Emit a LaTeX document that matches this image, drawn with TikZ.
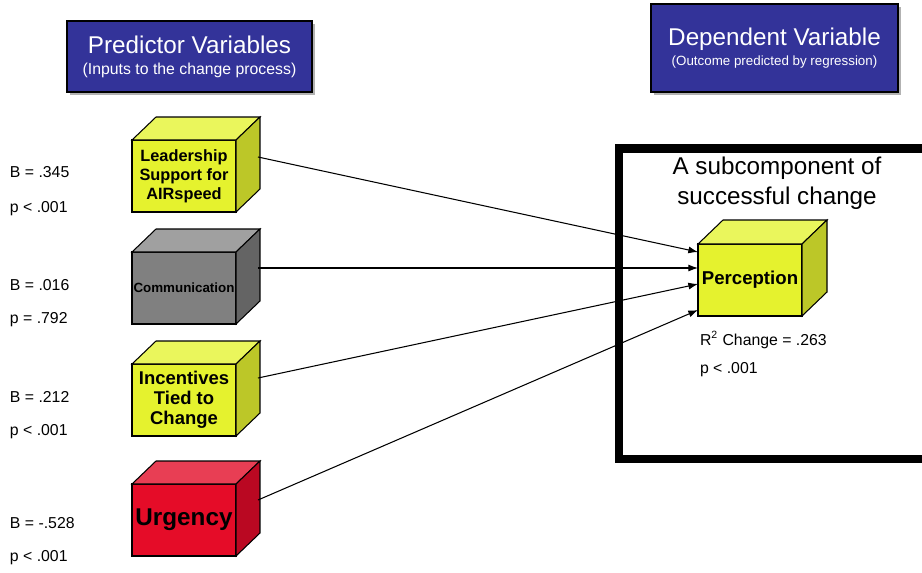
\documentclass[tikz,border=0pt]{standalone}
\usepackage{fontspec}
\setmainfont{Liberation Sans}
\usetikzlibrary{arrows.meta}

\definecolor{titleblue}{RGB}{51,51,153}
\definecolor{yellowfront}{RGB}{229,242,46}
\definecolor{yellowtop}{RGB}{234,246,92}
\definecolor{yellowside}{RGB}{188,199,40}
\definecolor{grayfront}{RGB}{128,128,128}
\definecolor{graytop}{RGB}{160,160,160}
\definecolor{grayside}{RGB}{100,100,100}
\definecolor{redfront}{RGB}{229,12,40}
\definecolor{redtop}{RGB}{232,62,84}
\definecolor{redside}{RGB}{186,8,34}

\begin{document}
\begin{tikzpicture}[x=0.02cm, y=-0.02cm,
  every node/.style={inner sep=0pt, outer sep=0pt},
  titlebox/.style={fill=titleblue, draw=black, line width=0.8pt, text=white, align=center},
  boxfront/.style={draw=black, line width=0.6pt, minimum width=2.08cm, minimum height=1.44cm, align=center, font=\bfseries},
  stat/.style={anchor=west, font=\fontsize{9}{10}\selectfont},
  arrow/.style={-{Latex[length=5.5pt,width=4pt]}, line width=0.6pt}]
\useasboundingbox (0,0) rectangle (922,572);

% headers
\fill[gray!60] (70,24) rectangle (315,95);
\node[titlebox, minimum width=4.9cm, minimum height=1.42cm] (pred) at (189.5,56.5)
  {\fontsize{13.8}{15}\selectfont Predictor Variables\\[0pt]\fontsize{9}{10}\selectfont (Inputs to the change process)};
\fill[gray!60] (654,7) rectangle (901,95);
\node[titlebox, minimum width=4.94cm, minimum height=1.76cm] (dep) at (774.5,48)
  {\fontsize{13.8}{15}\selectfont Dependent Variable\\[-1pt]\fontsize{7.6}{9}\selectfont (Outcome predicted by regression)};

% frame round the outcome
\draw[line width=4.6pt] (619,148.5) rectangle (935,459);
\node[align=center, font=\fontsize{13.8}{17}\selectfont] (sub) at (777,183) {A subcomponent of\\successful change};

% predictor cubes
\node[boxfront, fill=yellowfront, font=\bfseries\fontsize{9.3}{10.8}\selectfont] (lead) at (184,176) {Leadership\\Support for\\AIRspeed};
\filldraw[fill=yellowtop, line width=0.6pt] (lead.north west) -- ++(24,-23) -- ++(104,0) -- (lead.north east) -- cycle;
\filldraw[fill=yellowside, line width=0.6pt] (lead.north east) -- ++(24,-23) -- ++(0,72) -- (lead.south east) -- cycle;

\node[boxfront, fill=grayfront, font=\bfseries\fontsize{7.6}{8}\selectfont] (comm) at (184,288) {Communication};
\filldraw[fill=graytop, line width=0.6pt] (comm.north west) -- ++(24,-23) -- ++(104,0) -- (comm.north east) -- cycle;
\filldraw[fill=grayside, line width=0.6pt] (comm.north east) -- ++(24,-23) -- ++(0,72) -- (comm.south east) -- cycle;

\node[boxfront, fill=yellowfront, font=\bfseries\fontsize{10.5}{11.4}\selectfont] (inc) at (184,400) {Incentives\\Tied to\\Change};
\filldraw[fill=yellowtop, line width=0.6pt] (inc.north west) -- ++(24,-23) -- ++(104,0) -- (inc.north east) -- cycle;
\filldraw[fill=yellowside, line width=0.6pt] (inc.north east) -- ++(24,-23) -- ++(0,72) -- (inc.south east) -- cycle;

\node[boxfront, fill=redfront, font=\bfseries\fontsize{13.8}{15}\selectfont] (urg) at (184,520) {Urgency};
\filldraw[fill=redtop, line width=0.6pt] (urg.north west) -- ++(24,-23) -- ++(104,0) -- (urg.north east) -- cycle;
\filldraw[fill=redside, line width=0.6pt] (urg.north east) -- ++(24,-23) -- ++(0,72) -- (urg.south east) -- cycle;

% outcome cube
\node[boxfront, fill=yellowfront, font=\bfseries\fontsize{10.6}{12}\selectfont] (perc) at (750,280) {Perception};
\filldraw[fill=yellowtop, line width=0.6pt] (perc.north west) -- ++(25,-24) -- ++(104,0) -- (perc.north east) -- cycle;
\filldraw[fill=yellowside, line width=0.6pt] (perc.north east) -- ++(25,-24) -- ++(0,72) -- (perc.south east) -- cycle;

% stats
\node[stat] (bLead) at (10,172) {B = .345};
\node[stat] (pLead) at (10,209) {p < .001};
\node[stat] (bComm) at (10,285) {B = .016};
\node[stat] (pComm) at (10,320) {p = .792};
\node[stat] (bInc) at (10,397) {B = .212};
\node[stat] (pInc) at (10,432) {p < .001};
\node[stat] (bUrg) at (10,523) {B = -.528};
\node[stat] (pUrg) at (10,558) {p < .001};
\node[stat] (rsq) at (700,340) {R\textsuperscript{2} Change = .263};
\node[stat] (pPerc) at (700,370) {p < .001};

% paths
\draw[arrow] ([shift={(22,-19)}]lead.east) -- ([shift={(0,-28)}]perc.west);
\draw[arrow] ([shift={(22,-20)}]comm.east) -- ([shift={(0,-12)}]perc.west);
\draw[arrow] ([shift={(22,-22)}]inc.east) -- ([shift={(0,4)}]perc.west);
\draw[arrow] ([shift={(22,-20)}]urg.east) -- ([shift={(0,30)}]perc.west);
\end{tikzpicture}
\end{document}
